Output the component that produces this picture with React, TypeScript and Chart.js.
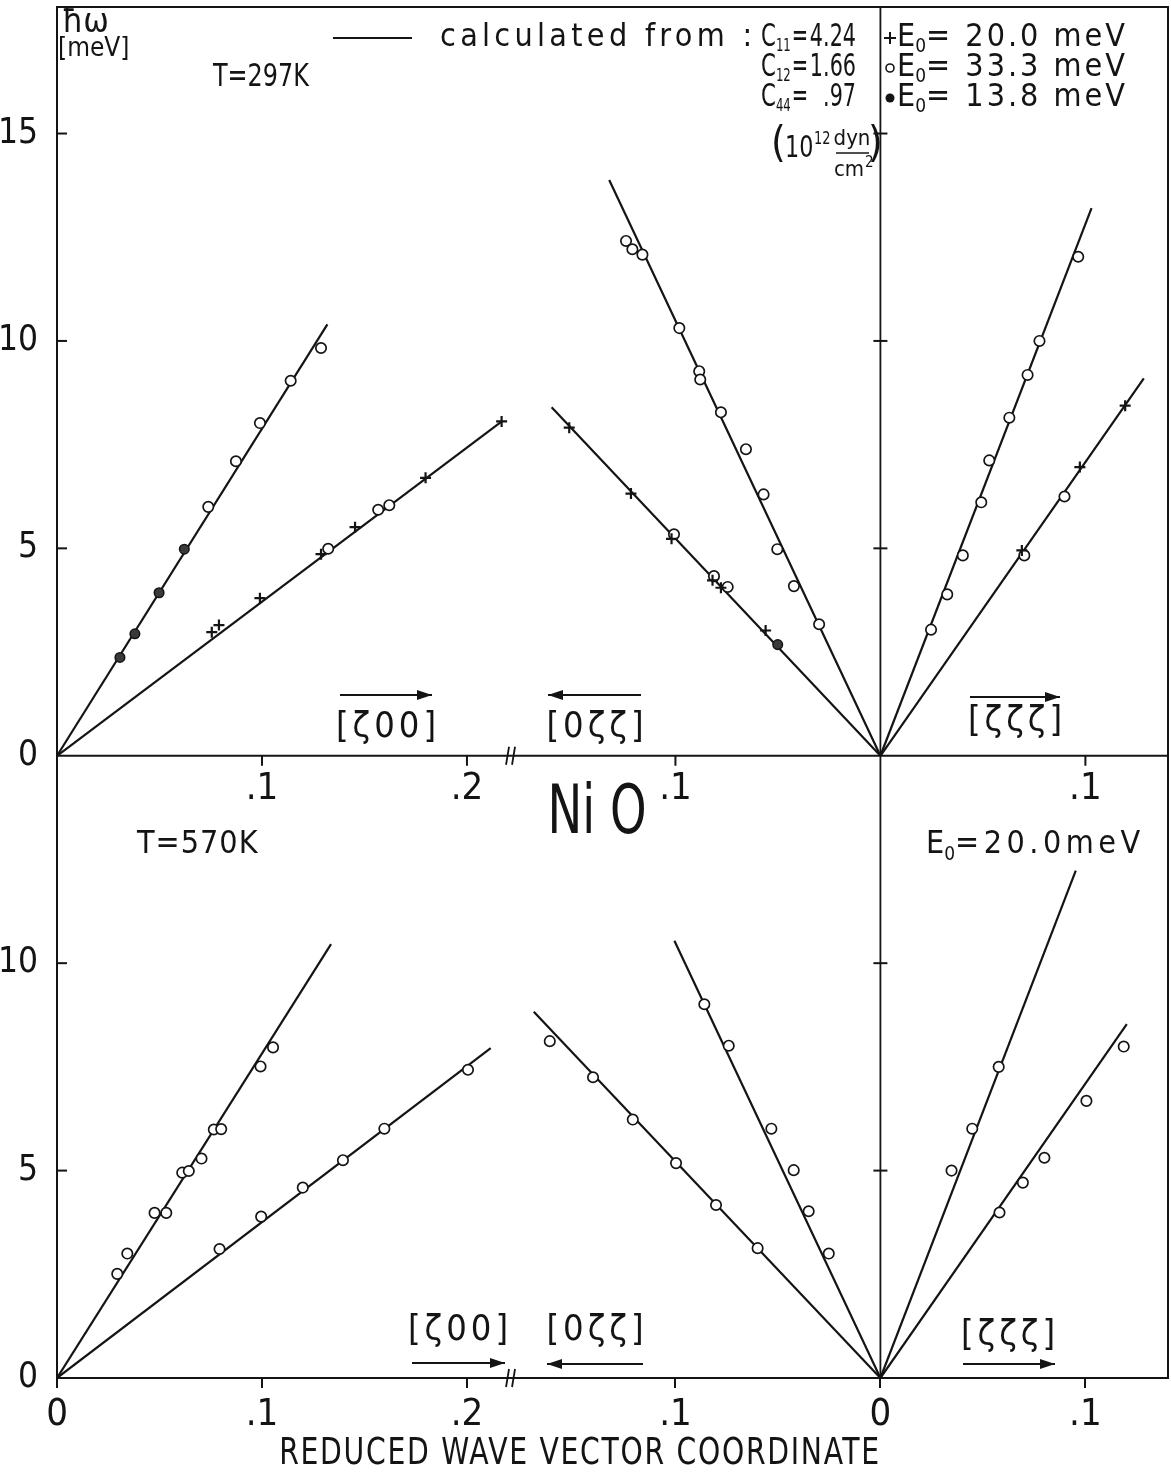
import React, { useEffect, useRef } from "react";
import { Chart, registerables } from "chart.js";

Chart.register(...registerables);

type P = [number, number]; // [ζ, ħω in meV]

// ---------- T = 297 K (upper panel) ----------
// [ζ00]
const t297_z00_L_e138: P[] = [[0.0307, 2.37], [0.038, 2.94], [0.0498, 3.93], [0.0621, 4.98]];
const t297_z00_L_e333: P[] = [[0.0738, 6.0], [0.0873, 7.1], [0.099, 8.02], [0.114, 9.04], [0.1288, 9.83]];
const t297_z00_T_e200: P[] = [[0.0755, 2.98], [0.079, 3.15], [0.099, 3.8], [0.1288, 4.86], [0.1454, 5.51], [0.1798, 6.7], [0.2169, 8.06]];
const t297_z00_T_e333: P[] = [[0.1323, 4.99], [0.1567, 5.93], [0.1621, 6.04]];
// [0ζζ]
const t297_0zz_L_e333: P[] = [[0.1241, 12.41], [0.121, 12.21], [0.1161, 12.08], [0.0981, 10.31], [0.0884, 9.27], [0.0879, 9.07], [0.0778, 8.28], [0.0656, 7.39], [0.057, 6.3], [0.0503, 4.98], [0.0422, 4.09], [0.0299, 3.17]];
const t297_0zz_T_e200: P[] = [[0.1518, 7.91], [0.1217, 6.32], [0.1019, 5.23], [0.0819, 4.23], [0.0778, 4.05], [0.056, 3.02]];
const t297_0zz_T_e333: P[] = [[0.1007, 5.34], [0.0812, 4.33], [0.0745, 4.07]];
const t297_0zz_T_e138: P[] = [[0.0501, 2.68]];
// [ζζζ]
const t297_zzz_L_e333: P[] = [[0.0247, 3.04], [0.0326, 3.89], [0.0402, 4.83], [0.0492, 6.11], [0.0531, 7.12], [0.0629, 8.15], [0.0718, 9.18], [0.0776, 10.0], [0.0965, 12.03]];
const t297_zzz_T_e200: P[] = [[0.069, 4.95], [0.0973, 6.96], [0.1194, 8.44]];
const t297_zzz_T_e333: P[] = [[0.0702, 4.83], [0.0898, 6.25]];
// calculated branches (straight from the origin): end points [LA, TA]
const t297_calc_z00: P[] = [[0.1319, 10.4], [0.217, 8.06]];
const t297_calc_0zz: P[] = [[0.1323, 13.88], [0.1604, 8.4]];
const t297_calc_zzz: P[] = [[0.103, 13.2], [0.1285, 9.1]];

// ---------- T = 570 K (lower panel), E0 = 20.0 meV ----------
const t570_z00_L: P[] = [[0.0294, 2.51], [0.0343, 3.0], [0.0476, 3.98], [0.0533, 3.98], [0.0611, 4.95], [0.0643, 4.99], [0.0705, 5.29], [0.0765, 5.99], [0.0801, 6.0], [0.0993, 7.51], [0.1054, 7.97]];
const t570_z00_T: P[] = [[0.0793, 3.11], [0.0996, 3.89], [0.1199, 4.59], [0.1395, 5.25], [0.1597, 6.01], [0.2005, 7.43]];
const t570_0zz_L: P[] = [[0.0859, 9.01], [0.074, 8.01], [0.0532, 6.01], [0.0423, 5.01], [0.035, 4.02], [0.0252, 3.0]];
const t570_0zz_T: P[] = [[0.1613, 8.12], [0.1402, 7.25], [0.1208, 6.23], [0.0997, 5.18], [0.0802, 4.17], [0.0599, 3.13]];
const t570_zzz_L: P[] = [[0.0347, 5.0], [0.0448, 6.01], [0.0577, 7.5]];
const t570_zzz_T: P[] = [[0.0581, 3.99], [0.0695, 4.71], [0.08, 5.31], [0.1005, 6.68], [0.1187, 7.99]];
const t570_calc_z00: P[] = [[0.1337, 10.46], [0.2116, 7.95]];
const t570_calc_0zz: P[] = [[0.1005, 10.54], [0.1691, 8.83]];
const t570_calc_zzz: P[] = [[0.0953, 12.23], [0.1202, 8.53]];

// ---------- ticks and legend text ----------
const zTicks_z00 = [0, 0.1, 0.2];
const zTicks_0zz = [0.1, 0];
const zTicks_zzz = [0.1];
const energyTicksLower = [0, 5, 10];
const energyTicksUpper = [0, 5, 10, 15];
const elasticIdx = ["11", "12", "44"];
const elasticVal = ["4.24", "1.66", ".97"];
const incidentE = ["20.0", "33.3", "13.8"];

// ---------- shared-axis layout ----------
const SEG = 0.4017; // axis coordinate of the common origin of [0ζζ] and [ζζζ]
const BREAK_AT = 0.2215; // axis break between [ζ00] and [0ζζ]
const TOP_SHIFT = 15; // the 297 K panel is stacked 15 meV above the 570 K panel
const X_MAX = 0.542;
const Y_MAX = 33.05;

const INK = "#141414";
const FAM = '"DejaVu Sans Condensed", "DejaVu Sans", sans-serif';

type Branch = "z00" | "0zz" | "zzz";
const axisX = (b: Branch, z: number) => (b === "z00" ? z : b === "0zz" ? SEG - z : SEG + z);
const place = (b: Branch, pts: P[], upper: boolean) =>
  pts.map(([z, e]) => ({ x: axisX(b, z), y: e + (upper ? TOP_SHIFT : 0) }));
const fmt = (z: number) => (z === 0 ? "0" : String(z).replace(/^0\./, "."));

const xTickValues = [
  ...zTicks_z00.map((z) => axisX("z00", z)),
  ...zTicks_0zz.map((z) => axisX("0zz", z)),
  ...zTicks_zzz.map((z) => axisX("zzz", z)),
];
const xTickLabels = [...zTicks_z00, ...zTicks_0zz, ...zTicks_zzz].map(fmt);
const yTickValues = [...energyTicksLower, ...energyTicksUpper.map((e) => e + TOP_SHIFT)];
const yTickLabels = [...energyTicksLower, ...energyTicksUpper].map(String);

const calcLines = (b: Branch, ends: P[], upper: boolean) =>
  ends.map((end) => ({
    data: place(b, [[0, 0], end], upper),
    showLine: true,
    borderColor: INK,
    borderWidth: 2.2,
    pointRadius: 0,
    order: 2,
  }));
const openPts = (data: { x: number; y: number }[]) => ({
  data,
  pointStyle: "circle",
  pointRadius: 5.2,
  pointBorderWidth: 1.7,
  pointBorderColor: INK,
  pointBackgroundColor: "#ffffff",
  order: 1,
});
const dotPts = (data: { x: number; y: number }[]) => ({
  data,
  pointStyle: "circle",
  pointRadius: 4.8,
  pointBorderWidth: 1.5,
  pointBorderColor: INK,
  pointBackgroundColor: "#3a3a3a",
  order: 1,
});
const plusPts = (data: { x: number; y: number }[]) => ({
  data,
  pointStyle: "cross",
  pointRadius: 5.5,
  pointBorderWidth: 2.2,
  pointBorderColor: INK,
  order: 1,
});

const annotations = {
  id: "nioAnnotations",
  afterDraw(chart: any) {
    const { ctx, chartArea: a, scales } = chart;
    const X = (v: number) => scales.x.getPixelForValue(v);
    const Y = (v: number) => scales.y.getPixelForValue(v);
    const line = (x1: number, y1: number, x2: number, y2: number, w = 2) => {
      ctx.lineWidth = w;
      ctx.beginPath();
      ctx.moveTo(x1, y1);
      ctx.lineTo(x2, y2);
      ctx.stroke();
    };
    // text with optional horizontal condensing (sx) and letter spacing (ls)
    const text = (
      s: string,
      x: number,
      y: number,
      size: number,
      align: CanvasTextAlign = "left",
      sx = 1,
      ls = 0
    ) => {
      ctx.save();
      ctx.font = `${size}px ${FAM}`;
      ctx.textAlign = align;
      ctx.textBaseline = "middle";
      ctx.letterSpacing = `${ls}px`;
      ctx.translate(x, y);
      ctx.scale(sx, 1);
      ctx.fillText(s, 0, 0);
      const w = ctx.measureText(s).width * sx;
      ctx.restore();
      return w;
    };
    const arrow = (x1: number, x2: number, y: number) => {
      line(x1, y, x2, y, 2);
      const d = Math.sign(x2 - x1);
      ctx.beginPath();
      ctx.moveTo(x2, y);
      ctx.lineTo(x2 - d * 15, y - 5);
      ctx.lineTo(x2 - d * 15, y + 5);
      ctx.closePath();
      ctx.fill();
    };

    ctx.save();
    ctx.strokeStyle = INK;
    ctx.fillStyle = INK;

    // frame, panel divider and the shared origin line
    ctx.lineWidth = 2;
    ctx.strokeRect(a.left, a.top, a.right - a.left, a.bottom - a.top);
    const yMid = Y(TOP_SHIFT);
    line(a.left, yMid, a.right, yMid);
    const xo = X(SEG);
    line(xo, a.top, xo, a.bottom, 1.8);

    // energy ticks: inward on the left axis, crossing on the origin line
    const eTicks = [
      ...energyTicksLower.filter((e) => e > 0),
      ...energyTicksUpper.filter((e) => e > 0).map((e) => e + TOP_SHIFT),
    ];
    eTicks.forEach((v) => {
      line(a.left, Y(v), a.left + 10, Y(v));
      line(xo - 7, Y(v), xo + 7, Y(v));
    });

    // wave-vector ticks of the upper panel, hanging under the divider
    xTickValues.forEach((v, i) => {
      if (xTickLabels[i] === "0") return;
      line(X(v), yMid, X(v), yMid + 10);
      text(xTickLabels[i], X(v), yMid + 33, 38, "center");
    });

    // axis breaks
    [yMid, a.bottom].forEach((yy) => {
      const xb = X(BREAK_AT);
      line(xb - 5, yy + 9, xb - 2, yy - 9, 1.8);
      line(xb + 1, yy + 9, xb + 4, yy - 9, 1.8);
    });

    // energy-axis label and temperature
    text("ħω", 62, 23, 34);
    text("[meV]", 58, 49, 26);
    text("T=297K", 213, 78, 32, "left", 0.83);

    // calculation legend
    line(333, 38, 412, 38, 2.2);
    text("calculated from :", 440, 38, 32, "left", 1, 4.3);
    elasticIdx.forEach((idx, i) => {
      const y = 38 + i * 30;
      const w = text("C", 761, y, 32, "left", 0.74);
      const ws = text(idx, 761 + w, y + 8, 18, "left", 0.72);
      text("=", 762 + w + ws, y, 32, "left", 0.68);
      text(elasticVal[i], 856, y, 32, "right", 0.72);
    });
    text("(", 771, 146, 42);
    text("10", 785, 149, 31, "left", 0.8);
    text("12", 814, 139, 18, "left", 0.8);
    text("dyn", 852, 139, 22, "center");
    line(836, 153, 869, 153, 1.6);
    text("cm", 849, 170, 22, "center");
    text("2", 865, 163, 15);
    text(")", 868, 146, 42);

    // incident-energy legend
    incidentE.forEach((e, i) => {
      const y = 38 + i * 30;
      const sx = 890;
      if (i === 0) {
        line(sx - 6, y, sx + 6, y, 2);
        line(sx, y - 6, sx, y + 6, 2);
      } else if (i === 1) {
        ctx.lineWidth = 1.6;
        ctx.beginPath();
        ctx.arc(sx, y, 4, 0, Math.PI * 2);
        ctx.stroke();
      } else {
        ctx.beginPath();
        ctx.arc(sx, y, 4.5, 0, Math.PI * 2);
        ctx.fill();
      }
      const w = text("E", 897, y, 32);
      const ws = text("0", 897 + w, y + 9, 19);
      text(`= ${e} meV`, 897 + w + ws, y, 32, "left", 1, 3);
    });

    // lower panel labels
    text("Ni O", 597, 815, 68, "center", 0.76);
    text("T=570K", 137, 845, 32, "left", 1, 1);
    {
      const w = text("E", 926, 845, 32);
      const ws = text("0", 926 + w, 855, 19);
      text("=20.0meV", 926 + w + ws, 845, 32, "left", 1, 4.5);
    }

    // direction labels; upper panel: arrow above the name
    arrow(340, 432, 695);
    text("[ζ00]", 388, 728, 36, "center", 1, 4);
    arrow(641, 548, 695);
    text("[0ζζ]", 597, 728, 36, "center", 1, 4);
    arrow(970, 1060, 697);
    text("[ζζζ]", 1017, 722, 36, "center", 1, 4);
    // lower panel: name above the arrow
    text("[ζ00]", 460, 1331, 36, "center", 1, 4);
    arrow(412, 505, 1363);
    text("[0ζζ]", 597, 1331, 36, "center", 1, 4);
    arrow(643, 547, 1364);
    text("[ζζζ]", 1010, 1336, 36, "center", 1, 4);
    arrow(963, 1055, 1364);

    // wave-vector axis title
    text("REDUCED WAVE VECTOR COORDINATE", 580, 1454, 37, "center", 0.85, 2);
    ctx.restore();
  },
};

export default function App() {
  const ref = useRef<HTMLCanvasElement | null>(null);

  useEffect(() => {
    if (!ref.current) return;
    const datasets: any[] = [
      // measured, 297 K
      dotPts(place("z00", t297_z00_L_e138, true)),
      openPts(place("z00", t297_z00_L_e333, true)),
      plusPts(place("z00", t297_z00_T_e200, true)),
      openPts(place("z00", t297_z00_T_e333, true)),
      openPts(place("0zz", t297_0zz_L_e333, true)),
      plusPts(place("0zz", t297_0zz_T_e200, true)),
      openPts(place("0zz", t297_0zz_T_e333, true)),
      dotPts(place("0zz", t297_0zz_T_e138, true)),
      openPts(place("zzz", t297_zzz_L_e333, true)),
      plusPts(place("zzz", t297_zzz_T_e200, true)),
      openPts(place("zzz", t297_zzz_T_e333, true)),
      // measured, 570 K
      openPts(place("z00", t570_z00_L, false)),
      openPts(place("z00", t570_z00_T, false)),
      openPts(place("0zz", t570_0zz_L, false)),
      openPts(place("0zz", t570_0zz_T, false)),
      openPts(place("zzz", t570_zzz_L, false)),
      openPts(place("zzz", t570_zzz_T, false)),
      // calculated from the elastic constants
      ...calcLines("z00", t297_calc_z00, true),
      ...calcLines("0zz", t297_calc_0zz, true),
      ...calcLines("zzz", t297_calc_zzz, true),
      ...calcLines("z00", t570_calc_z00, false),
      ...calcLines("0zz", t570_calc_0zz, false),
      ...calcLines("zzz", t570_calc_zzz, false),
    ];

    const chart = new Chart(ref.current, {
      type: "scatter",
      data: { datasets },
      options: {
        animation: false,
        responsive: false,
        maintainAspectRatio: false,
        layout: { autoPadding: false, padding: { top: 7, right: 3, left: 0, bottom: 0 } },
        plugins: { legend: { display: false }, tooltip: { enabled: false } },
        scales: {
          x: {
            type: "linear",
            min: 0,
            max: X_MAX,
            afterBuildTicks: (s: any) => {
              s.ticks = xTickValues.map((value) => ({ value }));
            },
            afterFit: (s: any) => {
              s.height = 99;
              s.paddingLeft = 0;
              s.paddingRight = 0;
            },
            grid: { display: true, drawOnChartArea: false, drawTicks: true, tickLength: 10, color: INK, lineWidth: 2 },
            border: { display: false },
            ticks: {
              autoSkip: false,
              maxRotation: 0,
              padding: 4,
              color: INK,
              font: { family: FAM, size: 38 },
              callback: (_v: any, i: number) => xTickLabels[i],
            },
          },
          y: {
            type: "linear",
            min: 0,
            max: Y_MAX,
            afterBuildTicks: (s: any) => {
              s.ticks = yTickValues.map((value) => ({ value }));
            },
            afterFit: (s: any) => {
              s.width = 57;
              s.paddingTop = 0;
              s.paddingBottom = 0;
            },
            grid: { display: false, drawTicks: false },
            border: { display: false },
            ticks: {
              autoSkip: false,
              padding: 19,
              color: INK,
              font: { family: FAM, size: 35 },
              callback: (_v: any, i: number) => yTickLabels[i],
            },
          },
        },
      },
      plugins: [annotations],
    } as any);
    return () => chart.destroy();
  }, []);

  return (
    <div style={{ position: "absolute", left: 0, top: 0, width: 1171, height: 1477, background: "#fff" }}>
      <canvas ref={ref} width={1171} height={1477} style={{ display: "block" }} />
    </div>
  );
}
